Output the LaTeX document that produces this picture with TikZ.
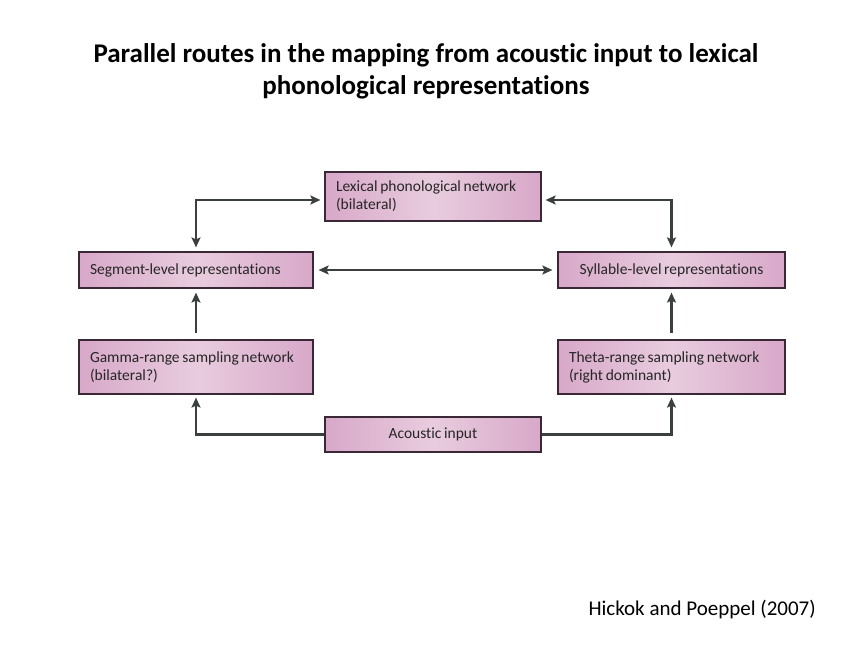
\documentclass[tikz,border=0pt]{standalone}
\usepackage{fontspec}
\setmainfont{Carlito}[Ligatures={NoCommon,NoContextual}]
\newfontfamily\boxfont{Carlito}[Ligatures={NoCommon,NoContextual}, WordSpace=0.75]
\usetikzlibrary{arrows.meta}
\definecolor{boxpink}{HTML}{D8A8C9}
\definecolor{boxlight}{HTML}{E8CCDE}
\definecolor{boxline}{HTML}{3A2836}
\definecolor{arrowgray}{HTML}{3C3F40}
\tikzset{
  routebox/.style={draw=boxline, line width=1.2pt, left color=boxpink, right color=boxpink,
    middle color=boxlight, inner xsep=11pt, inner ysep=4pt, align=flush left,
    font=\boxfont\fontsize{15.5}{18}\selectfont, text=black!85},
  route/.style={draw=arrowgray, line width=2.6pt,
    -{Stealth[length=10pt,width=9pt,inset=2pt]}, shorten >=4pt}
}
\begin{document}
\begin{tikzpicture}[x=1pt,y=-1pt]
\useasboundingbox (0,0) rectangle (847,655);
% title
\node[font=\bfseries\fontsize{27}{32}\selectfont, align=center] (title) at (426,71)
  {Parallel routes in the mapping from acoustic input to lexical\\phonological representations};

% boxes
\node[routebox, text width=194, minimum height=49] (lex) at (433,196.5)
  {Lexical phonological network\\(bilateral)};
\node[routebox, text width=212, minimum height=36] (seg) at (196,270)
  {Segment-level representations};
\node[routebox, text width=205, minimum height=36, align=flush center] (syl) at (671.5,270)
  {Syllable-level representations};
\node[routebox, text width=212, minimum height=54] (gam) at (196,367)
  {Gamma-range sampling network\\(bilateral?)};
\node[routebox, text width=205, minimum height=54] (the) at (671.5,367)
  {Theta-range sampling network\\(right dominant)};
\node[routebox, text width=194, minimum height=35, align=flush center] (aco) at (433,434.5)
  {Acoustic input};

% connectors
\draw[route, {Stealth[length=10pt,width=9pt,inset=2pt]}-{Stealth[length=10pt,width=9pt,inset=2pt]}, shorten <=4pt]
  (seg.north) |- ([yshift=-3.5pt]lex.west);
\draw[route, {Stealth[length=10pt,width=9pt,inset=2pt]}-{Stealth[length=10pt,width=9pt,inset=2pt]}, shorten <=4pt]
  (syl.north) |- ([yshift=-3.5pt]lex.east);
\draw[route, {Stealth[length=10pt,width=9pt,inset=2pt]}-{Stealth[length=10pt,width=9pt,inset=2pt]}, shorten <=5pt, shorten >=5pt]
  (seg.east) -- (syl.west);
\draw[route, shorten <=6pt] (gam.north) -- (seg.south);
\draw[route, shorten <=6pt] (the.north) -- (syl.south);
\draw[route, shorten >=3pt] (aco.west) -| (gam.south);
\draw[route, shorten >=3pt] (aco.east) -| (the.south);

% citation
\node[font=\fontsize{21}{24}\selectfont, anchor=west] (cite) at (585,610) {Hickok and Poeppel (2007)};
\end{tikzpicture}
\end{document}
